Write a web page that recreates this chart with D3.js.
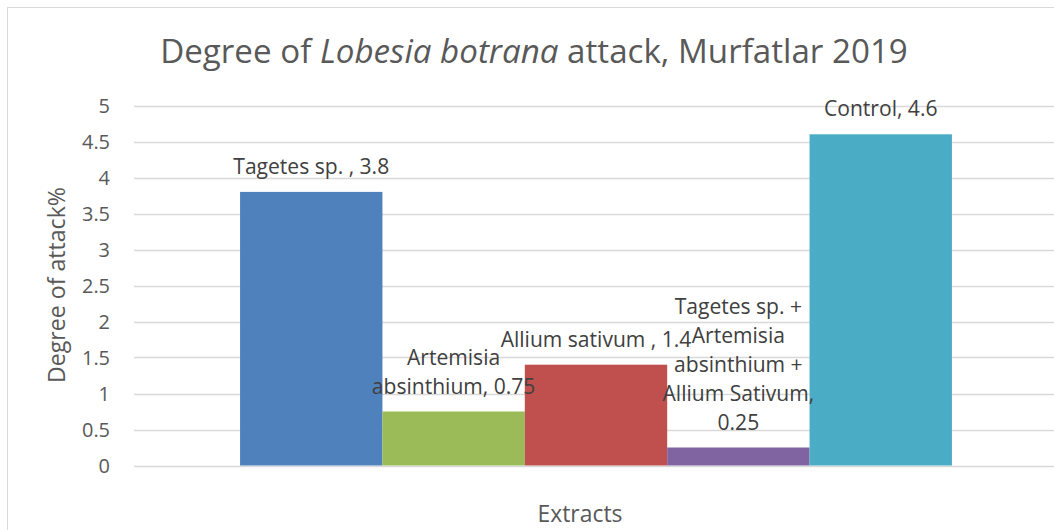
<!DOCTYPE html>
<html>
<head>
<meta charset="utf-8">
<script src="https://cdn.jsdelivr.net/npm/d3@7"></script>
<style>
  html, body { margin: 0; padding: 0; background: #fff; }
  svg { display: block; }
</style>
</head>
<body>
<svg id="chart" width="1054" height="530"></svg>
<script>
const categories = ["Tagetes sp. ", "Artemisia absinthium", "Allium sativum ", "Tagetes sp. + Artemisia absinthium + Allium Sativum", "Control"];
const values = [3.8, 0.75, 1.4, 0.25, 4.6];
const labelLines = [
  ["Tagetes sp. , 3.8"],
  ["Artemisia", "absinthium, 0.75"],
  ["Allium sativum , 1.4"],
  ["Tagetes sp. +", "Artemisia", "absinthium +", "Allium Sativum,", "0.25"],
  ["Control, 4.6"]
];
const colors = ["#4f81bd", "#9bbb59", "#c0504d", "#8064a2", "#4bacc6"];
const yTicks = [0, 0.5, 1, 1.5, 2, 2.5, 3, 3.5, 4, 4.5, 5];

const svg = d3.select("#chart");
const font = "'Open Sans', 'Noto Sans', sans-serif";

// scale a text element's font size so its rendered width matches a target
function fitSize(sel, base, target) {
  sel.attr("font-size", base);
  const w = sel.node().getComputedTextLength();
  return base * target / w;
}

// chart area border
svg.append("rect").attr("x", 7.5).attr("y", 7.5).attr("width", 1100).attr("height", 600)
  .attr("fill", "#fff").attr("stroke", "#d9d9d9").attr("stroke-width", 1);

const plot = { left: 134, right: 1058, top: 105.5, bottom: 465.5 };

const y = d3.scaleLinear().domain([0, 5]).range([plot.bottom, plot.top]);
const xCat = d3.scaleBand().domain(["Extracts"]).range([plot.left, plot.right])
  .paddingInner(0).paddingOuter(0.149);
const xSer = d3.scaleBand().domain(categories)
  .range([xCat("Extracts"), xCat("Extracts") + xCat.bandwidth()]).padding(0);

// gridlines
svg.append("g").selectAll("line").data(yTicks).join("line")
  .attr("x1", plot.left).attr("x2", plot.right)
  .attr("y1", d => Math.round(y(d)) + 0.5).attr("y2", d => Math.round(y(d)) + 0.5)
  .attr("stroke", "#d9d9d9").attr("stroke-width", 1.3);

// y axis labels
const probeTick = svg.append("text").attr("font-family", font).text("4.5");
const tickSize = fitSize(probeTick, 20, 28);
probeTick.remove();
const yAxis = d3.axisLeft(y).tickValues(yTicks).tickSize(0).tickPadding(0)
  .tickFormat(d => d3.format("")(d));
const gy = svg.append("g").attr("transform", `translate(${110},0)`).call(yAxis);
gy.select(".domain").remove();
gy.selectAll("text").attr("font-family", font).attr("font-size", tickSize)
  .attr("fill", "#595959").attr("dy", "0.35em");

// bars
svg.append("g").selectAll("rect").data(categories).join("rect")
  .attr("x", d => xSer(d)).attr("width", xSer.bandwidth())
  .attr("y", (d, i) => y(values[i])).attr("height", (d, i) => y(0) - y(values[i]))
  .attr("fill", (d, i) => colors[i]);

// data labels
const probeLbl = svg.append("text").attr("font-family", font).text(labelLines[0][0]);
const lblSize = fitSize(probeLbl, 18, 156);
probeLbl.remove();
const lh = 29;
categories.forEach((c, i) => {
  const lines = labelLines[i];
  const cx = xSer(c) + xSer.bandwidth() / 2;
  const baseY = y(values[i]) - 18;
  const t = svg.append("text").attr("text-anchor", "middle")
    .attr("font-family", font).attr("font-size", lblSize).attr("fill", "#404040");
  lines.forEach((ln, k) => {
    t.append("tspan").attr("x", cx).attr("y", baseY - (lines.length - 1 - k) * lh).text(ln);
  });
});

// title
const title = svg.append("text").attr("x", 534).attr("y", 63).attr("text-anchor", "middle")
  .attr("font-family", font).attr("fill", "#595959");
title.append("tspan").text("Degree of ");
title.append("tspan").attr("font-style", "italic").text("Lobesia botrana");
title.append("tspan").text(" attack, Murfatlar 2019");
title.attr("font-size", fitSize(title, 28, 748));

// axis titles
const yt = svg.append("text").attr("transform", `translate(65,285) rotate(-90)`).attr("text-anchor", "middle")
  .attr("font-family", font).attr("fill", "#595959").text("Degree of attack%");
yt.attr("font-size", fitSize(yt, 20, 196));
const xt = svg.append("text").attr("x", 580).attr("y", 521.5).attr("text-anchor", "middle")
  .attr("font-family", font).attr("fill", "#595959").text("Extracts");
xt.attr("font-size", fitSize(xt, 20, 85));
</script>
</body>
</html>
